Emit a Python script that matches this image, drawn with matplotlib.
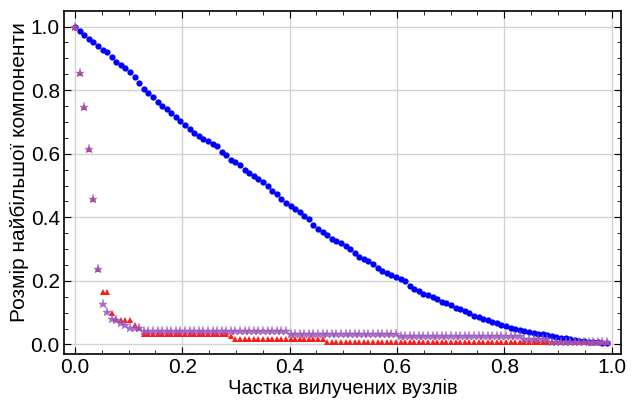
import numpy as np
import matplotlib
matplotlib.use('Agg')
import matplotlib.pyplot as plt
from matplotlib.ticker import MultipleLocator

plt.rcParams['font.family'] = ['Liberation Sans', 'DejaVu Sans']

# number of nodes in the network, x = fraction of removed nodes
n_nodes = 117

# largest component size, random removal (blue)
blue = [1.000, 0.987, 0.972, 0.961, 0.950, 0.938, 0.927, 0.919, 0.904, 0.889,
        0.880, 0.869, 0.856, 0.842, 0.823, 0.803, 0.792, 0.779, 0.763, 0.751,
        0.740, 0.727, 0.714, 0.702, 0.690, 0.678, 0.664, 0.656, 0.647, 0.641,
        0.631, 0.624, 0.604, 0.595, 0.580, 0.573, 0.563, 0.549, 0.538, 0.530,
        0.521, 0.511, 0.500, 0.483, 0.473, 0.458, 0.446, 0.435, 0.425, 0.417,
        0.405, 0.394, 0.375, 0.362, 0.353, 0.344, 0.333, 0.326, 0.320, 0.310,
        0.300, 0.287, 0.276, 0.268, 0.262, 0.252, 0.241, 0.232, 0.226, 0.219,
        0.211, 0.205, 0.199, 0.184, 0.176, 0.168, 0.160, 0.155, 0.148, 0.142,
        0.135, 0.130, 0.123, 0.116, 0.112, 0.105, 0.100, 0.091, 0.085, 0.081,
        0.076, 0.071, 0.067, 0.062, 0.057, 0.053, 0.049, 0.046, 0.043, 0.040,
        0.036, 0.034, 0.032, 0.031, 0.027, 0.024, 0.021, 0.019, 0.016, 0.014,
        0.012, 0.011, 0.009, 0.008, 0.007, 0.006, 0.006]

# largest component size, targeted removal (red)
red = [1.000, 0.853, 0.748, 0.614, 0.458, 0.236, 0.166, 0.166, 0.098, 0.081,
       0.077, 0.077, 0.077, 0.060, 0.051, 0.034, 0.034, 0.034, 0.034, 0.034,
       0.034, 0.034, 0.034, 0.034, 0.034, 0.034, 0.034, 0.034, 0.034, 0.034,
       0.034, 0.034, 0.034, 0.034, 0.026, 0.017, 0.017, 0.017, 0.017, 0.017,
       0.017, 0.017, 0.017, 0.017, 0.017, 0.017, 0.017, 0.017, 0.017, 0.017,
       0.017, 0.017, 0.017, 0.017, 0.017, 0.009, 0.009, 0.009, 0.009, 0.009,
       0.009, 0.009, 0.009, 0.009, 0.009, 0.009, 0.009, 0.009, 0.009, 0.009,
       0.009, 0.009, 0.009, 0.009, 0.009, 0.009, 0.009, 0.009, 0.009, 0.009,
       0.009, 0.009, 0.009, 0.009, 0.009, 0.009, 0.009, 0.009, 0.009, 0.009,
       0.009, 0.009, 0.009, 0.009, 0.009, 0.009, 0.009, 0.009, 0.009, 0.009,
       0.009, 0.009, 0.009, 0.009, 0.009, 0.009, 0.009, 0.009, 0.009, 0.009,
       0.009, 0.009, 0.009, 0.009, 0.009, 0.009, 0.009]

# largest component size, adaptive targeted removal (purple)
purple = [1.000, 0.853, 0.748, 0.614, 0.458, 0.236, 0.128, 0.103, 0.081, 0.077,
          0.068, 0.060, 0.051, 0.051, 0.051, 0.043, 0.043, 0.043, 0.043, 0.043,
          0.043, 0.043, 0.043, 0.043, 0.043, 0.043, 0.043, 0.043, 0.043, 0.043,
          0.043, 0.043, 0.043, 0.043, 0.043, 0.043, 0.043, 0.043, 0.043, 0.043,
          0.043, 0.043, 0.043, 0.043, 0.043, 0.043, 0.043, 0.034, 0.034, 0.034,
          0.034, 0.034, 0.034, 0.034, 0.034, 0.034, 0.034, 0.034, 0.034, 0.034,
          0.034, 0.034, 0.034, 0.034, 0.034, 0.034, 0.034, 0.034, 0.034, 0.034,
          0.034, 0.026, 0.026, 0.026, 0.026, 0.026, 0.026, 0.026, 0.026, 0.026,
          0.026, 0.026, 0.026, 0.026, 0.026, 0.026, 0.026, 0.026, 0.026, 0.026,
          0.026, 0.026, 0.026, 0.026, 0.026, 0.026, 0.026, 0.026, 0.017, 0.017,
          0.017, 0.017, 0.017, 0.017, 0.009, 0.009, 0.009, 0.009, 0.009, 0.009,
          0.009, 0.009, 0.009, 0.009, 0.009, 0.009, 0.009]

removed = np.arange(len(blue)) / n_nodes

fig = plt.figure(figsize=(6.37, 4.01), dpi=100)
ax = fig.add_axes([64 / 637, 1 - 354 / 401, (621 - 64) / 637, (354 - 11) / 401])

ax.plot(removed, blue, 'o', color='#0000ff', markersize=4.5, markeredgewidth=0, zorder=3)
ax.plot(removed, red, '^', color='#ff1a1a', markersize=4.5, markeredgewidth=0, zorder=4)
ax.plot(removed, purple, '*', color='#9b55bd', markersize=6.5, markeredgewidth=0.3,
        alpha=0.85, zorder=5)

ax.set_xlim(-0.0205, 1.0177)
ax.set_ylim(-0.030, 1.049)
ax.xaxis.set_major_locator(MultipleLocator(0.2))
ax.yaxis.set_major_locator(MultipleLocator(0.2))
ax.xaxis.set_minor_locator(MultipleLocator(0.05))
ax.yaxis.set_minor_locator(MultipleLocator(0.05))
ax.tick_params(which='both', direction='in', top=True, right=True, labelsize=15)
ax.tick_params(which='major', length=5, width=0.8, pad=3)
ax.tick_params(which='minor', length=3, width=0.6)
ax.grid(True, which='major', color='#d3d3d3', linewidth=1)
ax.set_axisbelow(True)
for s in ax.spines.values():
    s.set_linewidth(1.2)

ax.set_xlabel('Частка вилучених вузлів', fontsize=14.5, labelpad=1)
ax.set_ylabel('Розмір найбільшої компоненти', fontsize=15)
ax.yaxis.set_label_coords(-0.062, 0.53)

fig.savefig('out.png', dpi=100)
